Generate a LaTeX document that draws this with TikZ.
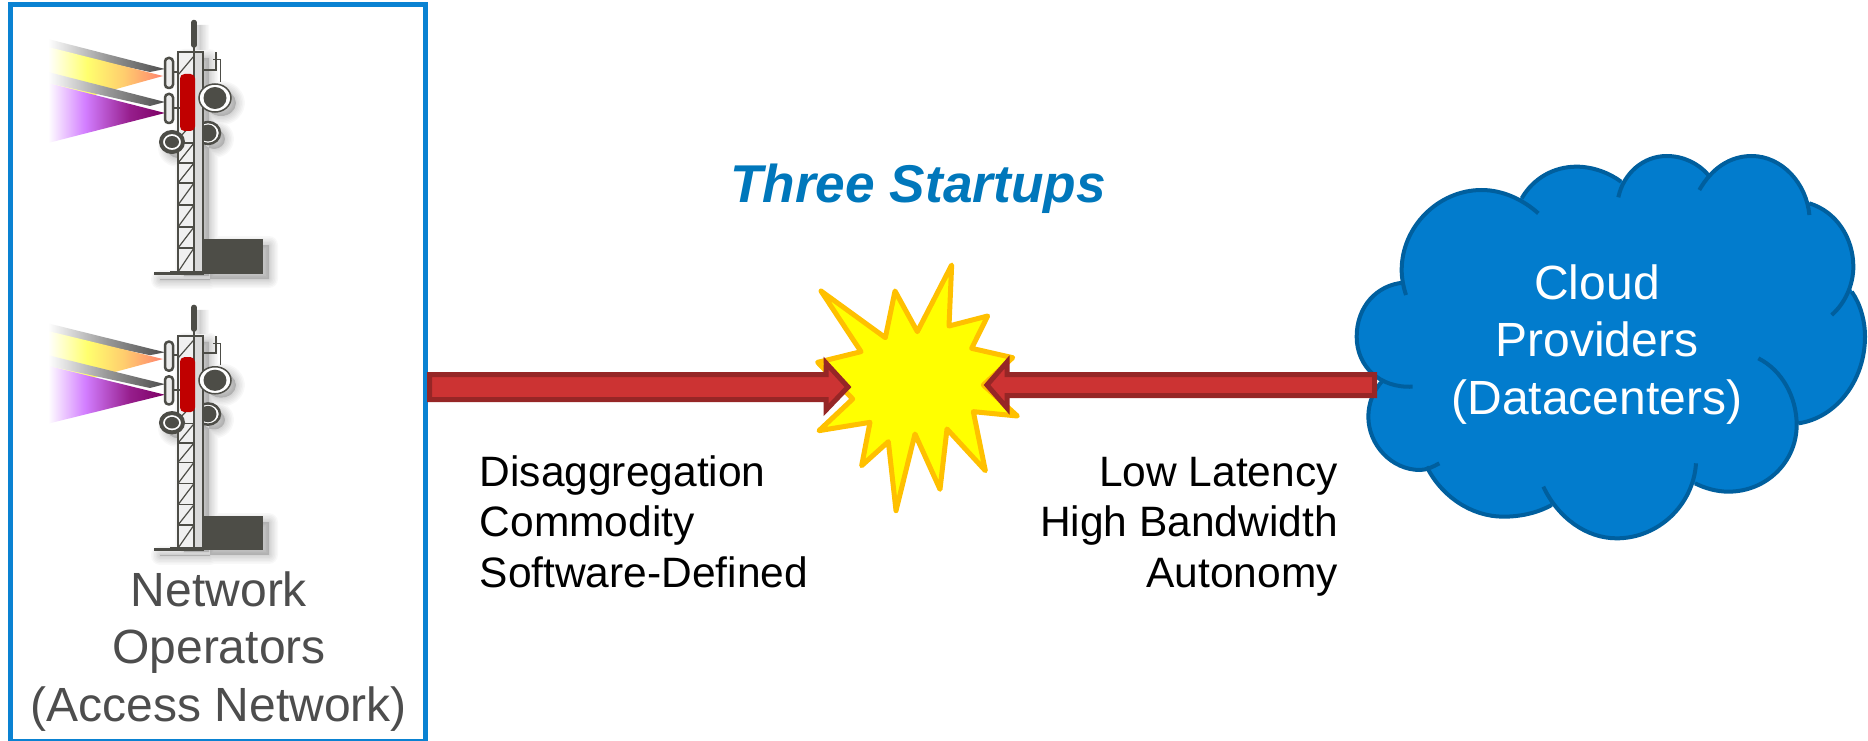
\documentclass[tikz,border=0pt]{standalone}
\usepackage{fontspec}
\setmainfont{Liberation Sans}
\usetikzlibrary{calc}
\definecolor{boxblue}{HTML}{0A82D2}
\definecolor{cloudfillc}{HTML}{027CCD}
\definecolor{cloudlinec}{HTML}{005F9E}
\definecolor{titleblue}{HTML}{0077BB}
\definecolor{greytext}{HTML}{4D4D4D}
\definecolor{towerc}{HTML}{4D4D47}
\definecolor{towerred}{HTML}{C00000}
\definecolor{burstline}{HTML}{FFC000}
\definecolor{burstfill}{RGB}{255,255,0}
\definecolor{beamyellow}{RGB}{255,255,110}
\definecolor{beamorange}{RGB}{255,205,110}
\definecolor{beamtip}{RGB}{255,130,110}
\definecolor{beamviolet}{RGB}{210,125,255}
\definecolor{beamplum}{RGB}{150,30,140}
\definecolor{beamdeep}{RGB}{125,0,100}
\pgfdeclarehorizontalshading{yellowbeam}{100bp}{color(0bp)=(white); color(25bp)=(white); color(42bp)=(beamyellow); color(58bp)=(beamorange); color(75bp)=(beamtip); color(100bp)=(beamtip)}
\pgfdeclarehorizontalshading{purplebeam}{100bp}{color(0bp)=(white); color(25bp)=(white); color(41bp)=(beamviolet); color(60bp)=(beamplum); color(75bp)=(beamdeep); color(100bp)=(beamdeep)}
\pgfdeclarehorizontalshading{greybeam}{100bp}{color(0bp)=(white); color(25bp)=(white); color(50bp)=(black!40); color(75bp)=(black!70); color(100bp)=(black!70)}
\definecolor{arrowfill}{HTML}{CC3333}
\definecolor{arrowline}{HTML}{962626}
\tikzset{
  x=1pt,y=-1pt,
  opsbox/.style={draw=boxblue,line width=5pt,fill=white,inner sep=0pt,outer sep=0pt},
  bigtext/.style={font=\fontsize{48}{57.5}\selectfont,align=center,inner sep=0pt},
  sidetext/.style={font=\fontsize{42.5}{50.5}\selectfont,inner sep=0pt,text=black},
  titletext/.style={font=\fontsize{53.2}{60}\selectfont\bfseries\itshape,text=titleblue,inner sep=0pt},
  towerline/.style={draw=towerc,line width=2pt},
  burststyle/.style={draw=burstline,fill=burstfill,line width=5pt,line join=round},
  blockarrow/.style={draw=arrowline,fill=arrowfill,line width=5pt,line join=miter},
  cloudfillst/.style={fill=cloudfillc,draw=cloudfillc,line width=1.5pt},
  cloudlinest/.style={draw=cloudlinec,line width=4pt}
}
\newcommand\towershape{
  % soft shadows
  \foreach \w in {18,15,12,9,6,3}{
    \draw[black,fill=black,opacity=.028,line width=\w pt,line join=round]
      (184,58) rectangle (209,276)
      (210,245) rectangle (269,279)
      (160,279) rectangle (210,280)
      (221,103) ellipse [x radius=15,y radius=13]
      (214,139) ellipse [x radius=11,y radius=10]
      (178,148) ellipse [x radius=11,y radius=10]
      (200,25) -- (200,50);
  }
  % beams
  \shade[shading=greybeam] (48,39) -- (165,69) -- (150,72) -- (48,50) -- cycle;
  \shade[shading=yellowbeam] (48,47) -- (163,76) -- (48,108) -- cycle;
  \shade[shading=greybeam] (48,72) -- (165,102) -- (150,106) -- (48,83) -- cycle;
  \fill[white] (48,90) -- (100,101) -- (48,110) -- cycle;
  \shade[shading=purplebeam] (48,83) -- (165,113) -- (48,143) -- cycle;
  % behind dish
  \draw[towerline,fill=white,line width=2.5pt] (208,133) ellipse [x radius=12,y radius=11];
  \fill[towerc] (208,133) ellipse [x radius=8.5,y radius=8.5];
  % tower body
  \fill[black!6] (178,52) rectangle (194,272);
  \fill[black!15] (194,52) rectangle (203,272);
  \draw[towerline] (178,272) -- (178,52) -- (203,52) -- (203,272);
  \draw[towerline] (194,52) -- (194,272);
  \foreach \ya/\yb in {143/163,163/183,183/205,205/227,227/248,248/272}{
    \draw[towerc,line width=1.2pt] (178,\yb) -- (194,\ya);
    \draw[towerc,line width=1.2pt] (178,\ya) -- (194,\ya);
  }
  \draw[towerc,line width=1.2pt] (178,75) -- (194,56);
  \draw[towerc,line width=1.2pt] (178,139) -- (194,122);
  % antenna
  \draw[towerc,line width=5.5pt,line cap=round] (194,22.5) -- (194,45);
  \draw[towerc,line width=2pt] (194,45) -- (194,52);
  % side arm
  \draw[towerc,line width=2pt] (203,70) -- (216,70) -- (216,52);
  \draw[towerc,line width=1pt] (213,60) -- (220,60) -- (220,82);
  % panels
  \draw[towerc,line width=1.5pt] (173,72) -- (178,72) (173,108) -- (180,108);
  \draw[towerc,line width=2.5pt,fill=black!8,rounded corners=3.5pt] (165,58) rectangle (173,88);
  \draw[towerc,line width=2.5pt,fill=black!8,rounded corners=3.5pt] (165,94) rectangle (173,123);
  % red unit
  \fill[towerred,rounded corners=4.5pt] (180,74) rectangle (195,131);
  % dishes
  \draw[towerc,line width=1.5pt,fill=white] (215,98) ellipse [x radius=16,y radius=14];
  \fill[towerc] (215,98) ellipse [x radius=11.5,y radius=11];
  \draw[towerc,line width=4pt,fill=white] (172,142) ellipse [x radius=11,y radius=10];
  \fill[towerc] (172,142) ellipse [x radius=7,y radius=6];
  % equipment hut and ground
  \fill[towerc] (204,239) rectangle (263,274);
  \fill[towerc] (154,272) rectangle (204,274.5);
  \fill[towerc] (170,270.5) rectangle (204,274);
}
\begin{document}
\begin{tikzpicture}
\useasboundingbox (0,0) rectangle (1868,741);
% operators box
\node[opsbox,minimum width=415pt,minimum height=736pt,anchor=north west] (ops) at (10,5) {};
\begin{scope}\towershape\end{scope}
\begin{scope}[shift={(0,285.7)},yscale=0.965]\towershape\end{scope}
\node[bigtext,text=greytext,anchor=base] (opsname) at (219,721) {Network\\Operators\\(Access Network)};
% burst
\begin{scope}[shift={(780,240)},scale=1/3]
\draw[burststyle] (123,153) -- (316,293) -- (345,153) -- (412,275) -- (515,75) -- (507,258) -- (623,228) -- (575,325) -- (698,353) -- (610,435) -- (712,528) -- (580,515) -- (616,692) -- (501,567) -- (480,748) -- (405,582) -- (348,812) -- (325,605) -- (245,677) -- (270,547) -- (117,572) -- (218,477) -- (113,367) -- (243,335) -- cycle;
\end{scope}
\coordinate (burstW) at (848,387);
\coordinate (burstE) at (987,385);
% cloud
\begin{scope}[shift={(1340,140)},scale=1/3]
\fill[cloudfillst] (190,428) -- (545,175) -- (843,125) -- (1105,105) -- (1408,190) -- (1535,455) -- (1375,850) -- (1065,1030) -- (635,1095) -- (260,980) -- (130,720) -- cycle;
\def\la{(218,740) .. controls (120,745) and (50,680) .. (50,590) .. controls (50,500) and (110,435) .. (190,428)}
\def\lb{(198,465) .. controls (190,440) and (185,415) .. (185,390) .. controls (185,260) and (295,150) .. (425,150) .. controls (490,150) and (550,180) .. (595,220)}
\def\lc{(545,175) .. controls (580,115) and (640,80) .. (710,80) .. controls (760,80) and (810,100) .. (843,125)}
\def\ld{(835,172) .. controls (850,100) and (910,48) .. (980,48) .. controls (1030,48) and (1075,70) .. (1105,105)}
\def\le{(1078,150) .. controls (1115,85) and (1170,48) .. (1235,48) .. controls (1325,48) and (1400,130) .. (1408,225)}
\def\lf{(1408,190) .. controls (1490,215) and (1540,295) .. (1540,380) .. controls (1540,435) and (1515,490) .. (1475,525)}
\def\lg{(1535,455) .. controls (1560,490) and (1575,540) .. (1575,590) .. controls (1575,725) and (1485,835) .. (1375,850)}
\def\lh{(1255,655) .. controls (1325,690) and (1370,770) .. (1370,855) .. controls (1370,965) and (1280,1055) .. (1165,1055) .. controls (1130,1055) and (1095,1045) .. (1065,1030)}
\def\li{(1068,970) .. controls (1060,1095) and (955,1195) .. (830,1195) .. controls (740,1195) and (655,1135) .. (610,1040)}
\def\lj{(635,1095) .. controls (590,1120) and (540,1130) .. (490,1130) .. controls (395,1130) and (305,1070) .. (260,980)}
\def\lk{(298,970) .. controls (280,980) and (260,990) .. (240,990) .. controls (155,990) and (85,915) .. (85,830) .. controls (85,790) and (100,750) .. (130,720)}
\foreach \p in {\la,\lb,\lc,\ld,\le,\lf,\lg,\lh,\li,\lj,\lk}{\fill[cloudfillst] \p -- cycle;}
\foreach \p in {\la,\lb,\lc,\ld,\le,\lf,\lg,\lh,\li,\lj,\lk}{\draw[cloudlinest] \p;}
\end{scope}
\coordinate (cloudW) at (1374.5,385);
\node[bigtext,text=white,anchor=base] (cloudname) at (1597,414) {Cloud\\Providers\\(Datacenters)};
% arrows
\coordinate (opsE) at (ops.east |- burstW);
\draw[blockarrow] ($(opsE)+(4.5,-12.5)$) -- ($(burstW)+(-22,-12.5)$) -- ($(burstW)+(-22,-24)$) -- (burstW) -- ($(burstW)+(-22,23)$) -- ($(burstW)+(-22,12.5)$) -- ($(opsE)+(4.5,12.5)$) -- cycle;
\draw[blockarrow] ($(cloudW)+(0,-10.5)$) -- ($(burstE)+(20,-10.5)$) -- ($(burstE)+(20,-23)$) -- (burstE) -- ($(burstE)+(20,23)$) -- ($(burstE)+(20,10.5)$) -- ($(cloudW)+(0,10.5)$) -- cycle;
% labels
\node[titletext,anchor=base] (title) at (918,202) {Three Startups};
\node[sidetext,align=left,anchor=base west] (leftlab) at (479.5,587) {Disaggregation\\Commodity\\Software-Defined};
\node[sidetext,align=right,anchor=base east] (rightlab) at (1338,587) {Low Latency\\High Bandwidth\\Autonomy};
\end{tikzpicture}
\end{document}
